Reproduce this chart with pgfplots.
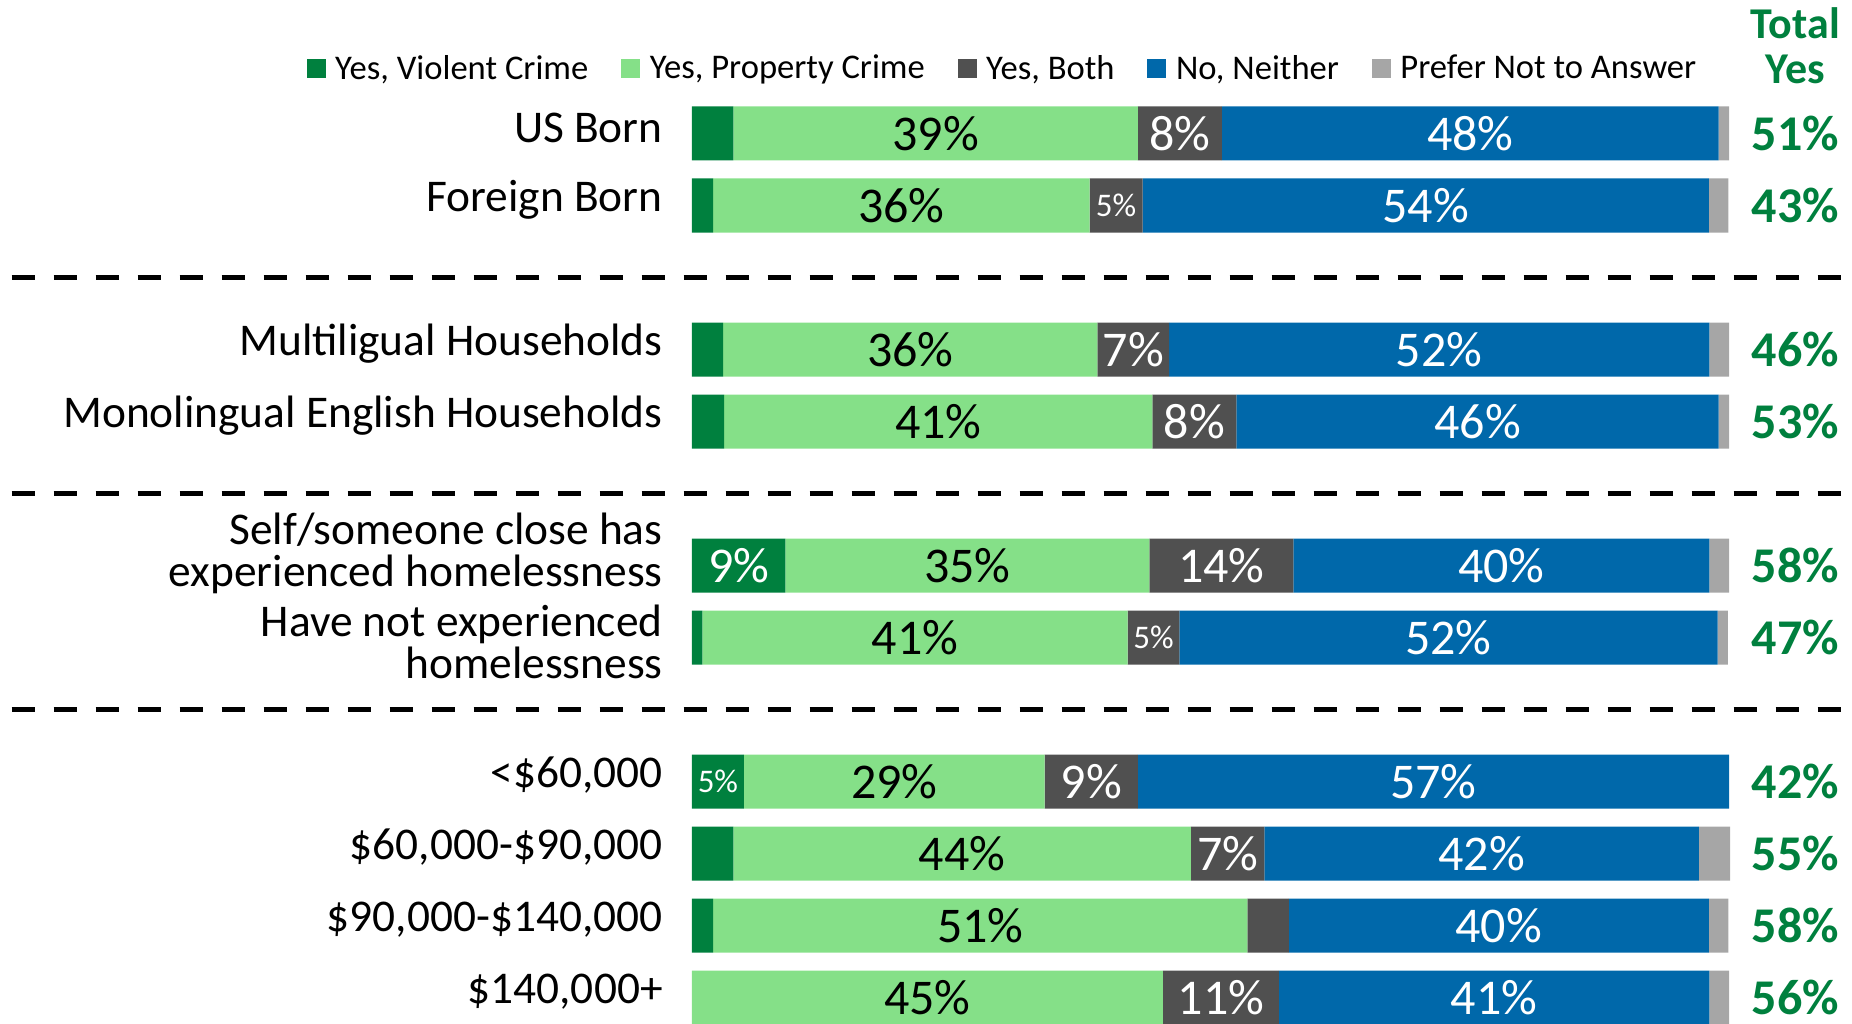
\documentclass[border=0pt]{standalone}
\usepackage{pgfplots}
\pgfplotsset{compat=1.18}
\usepackage{pgfplotstable}
\usepackage{fontspec}
\setmainfont{Carlito}
\definecolor{cViol}{RGB}{0,128,62}
\definecolor{cProp}{RGB}{133,224,136}
\definecolor{cBoth}{RGB}{80,80,80}
\definecolor{cNeit}{RGB}{0,104,170}
\definecolor{cPref}{RGB}{166,166,166}

\pgfplotstableread{
y viol prop both neit pref
0 4.0 39.0 8.1 47.9 1.0
1 2.05 36.3 5.1 54.6 1.9
3 3.0 36.1 6.9 52.1 1.9
4 3.1 41.3 8.1 46.5 1.0
6 9.0 35.1 13.9 40.1 1.9
7 1.0 41.0 5.0 51.9 1.0
9 5.0 29.0 9.0 57.0 0
10 4.0 44.1 7.1 41.9 3.0
11 2.05 51.5 4.0 40.5 1.9
12 0 45.4 11.2 41.5 1.9
}\bars

\pgfplotstableread{
x y l
23.5 0 39
20.2 1 36
21.05 3 36
23.75 4 41
26.55 6 35
21.5 7 41
19.5 9 29
26.05 10 44
27.8 11 51
22.7 12 45
}\labblack

\pgfplotstableread{
x y l
47.05 0 8
75.05 0 48
70.75 1 54
42.55 3 7
72.05 3 52
48.45 4 8
75.75 4 46
4.5 6 9
51.05 6 14
78.05 6 40
72.95 7 52
38.5 9 9
71.5 9 57
51.65 10 7
76.15 10 42
77.8 11 40
51.0 12 11
77.35 12 41
}\labwhite

\pgfplotstableread{
x y l
40.9 1 5
44.5 7 5
2.5 9 5
}\labsmall

\pgfplotstableread{
x y l
106.4 0 51
106.4 1 43
106.4 3 46
106.4 4 53
106.4 6 58
106.4 7 47
106.4 9 42
106.4 10 55
106.4 11 58
106.4 12 56
}\totals

\begin{document}
\begin{tikzpicture}
\begin{axis}[
  scale only axis, width=518.5pt, height=511.5pt,
  xmin=0, xmax=100, ymin=-1.854, ymax=12.354, y dir=reverse,
  xbar stacked, bar width=27pt,
  clip=false,
  axis line style={draw=none}, tick style={draw=none},
  xtick=\empty,
  ytick={0,1,3,4,6,7,9,10,11,12},
  yticklabels={US Born, Foreign Born, Multiligual Households, Monolingual English Households,
    {Self/someone close has\\experienced homelessness\rule[-9.4pt]{0pt}{9.4pt}},
    {\rule{0pt}{26pt}Have not experienced\\homelessness},
    {<\$60,000}, {\$60,000-\$90,000}, {\$90,000-\$140,000}, {\$140,000+}},
  yticklabel style={align=right, font=\fontsize{22.7}{21}\selectfont, inner sep=0pt, xshift=-14.5pt, yshift=3pt},
  legend columns=-1,
  legend style={at={(-0.372,0.933)}, anchor=west, draw=none, fill=none, inner sep=0pt,
    font=\fontsize{17.3}{19}\selectfont,
    /tikz/every even column/.append style={column sep=13.9pt},
    nodes={inner sep=2.5pt}},
  legend cell align=left,
  legend image code/.code={\fill[#1] (0pt,-4.75pt) rectangle (9.5pt,4.75pt); \path (11.8pt,0pt);},
]
\addplot[fill=cViol, draw=none] table[x=viol, y=y] {\bars};
\addlegendentry{Yes, Violent Crime}
\addplot[fill=cProp, draw=none] table[x=prop, y=y] {\bars};
\addlegendentry{Yes, Property Crime}
\addplot[fill=cBoth, draw=none] table[x=both, y=y] {\bars};
\addlegendentry{Yes, Both}
\addplot[fill=cNeit, draw=none] table[x=neit, y=y] {\bars};
\addlegendentry{No, Neither}
\addplot[fill=cPref, draw=none] table[x=pref, y=y] {\bars};
\addlegendentry{Prefer Not to Answer}

\draw[line width=2.8pt, dash pattern=on 11.7pt off 9.3pt] (axis cs:-65.6,2) -- (axis cs:110.9,2);
\draw[line width=2.8pt, dash pattern=on 11.7pt off 9.3pt] (axis cs:-65.6,5) -- (axis cs:110.9,5);
\draw[line width=2.8pt, dash pattern=on 11.7pt off 9.3pt] (axis cs:-65.6,8) -- (axis cs:110.9,8);
\node[font=\bfseries\fontsize{22}{22.5}\selectfont, text=cViol, align=center] at (axis cs:106.4,-1.215) {Total\\Yes};
\coordinate (bbA) at (axis cs:-66.73,-1.854);
\coordinate (bbB) at (axis cs:111.86,12.354);
\end{axis}

\begin{axis}[
  scale only axis, width=518.5pt, height=511.5pt,
  xmin=0, xmax=100, ymin=-1.854, ymax=12.354, y dir=reverse,
  clip=false, hide axis,
  point meta=explicit symbolic,
  nodes near coords={\pgfplotspointmeta\%},
]
\addplot[only marks, mark=none, nodes near coords style={anchor=center, text=black, font=\fontsize{25}{25}\selectfont}] table[x=x, y=y, meta=l] {\labblack};
\addplot[only marks, mark=none, nodes near coords style={anchor=center, text=white, font=\fontsize{25}{25}\selectfont}] table[x=x, y=y, meta=l] {\labwhite};
\addplot[only marks, mark=none, nodes near coords style={anchor=center, text=white, font=\fontsize{16.5}{16.5}\selectfont}] table[x=x, y=y, meta=l] {\labsmall};
\addplot[only marks, mark=none, nodes near coords style={anchor=center, text=cViol, font=\bfseries\fontsize{25}{25}\selectfont}] table[x=x, y=y, meta=l] {\totals};
\end{axis}
\pgfresetboundingbox
\path[use as bounding box] (bbA) rectangle (bbB);
\end{tikzpicture}
\end{document}
